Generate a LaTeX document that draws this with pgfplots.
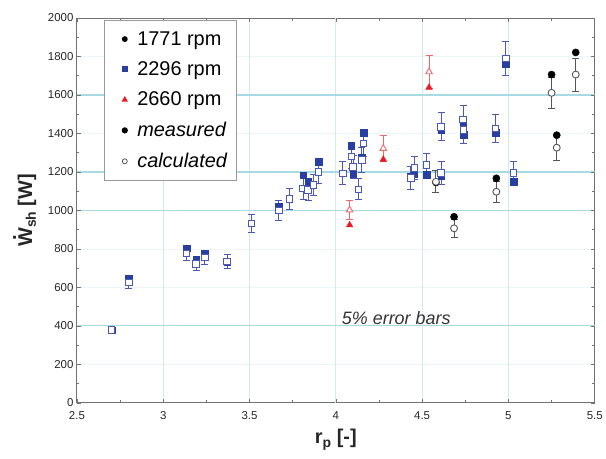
\documentclass[border=0pt]{standalone}
\usepackage{fontspec}
\setmainfont{Liberation Sans}
\usepackage{pgfplots}
\pgfplotsset{compat=1.18}
\usepackage{pgfplotstable}

\definecolor{bfill}{RGB}{40,62,160}
\definecolor{bopen}{RGB}{75,88,182}
\definecolor{rfill}{RGB}{232,28,36}
\definecolor{ropen}{RGB}{236,105,105}
\definecolor{copen}{RGB}{85,85,85}
\definecolor{hgrid}{RGB}{168,218,228}
\definecolor{vgrid}{RGB}{208,236,242}
\definecolor{fgrid}{RGB}{236,246,248}

% x = r_p, m = measured, c = calculated, e = 5% of calculated
\pgfplotstableread{
x m c e
2.70 378 378 18.9
2.80 648 625 31.3
3.135 803 777 38.9
3.19 746 722 36.1
3.24 777 756 37.8
3.37 734 734 36.7
3.51 933 933 46.7
3.67 1023 1000 50.0
3.73 1060 1060 53.0
3.81 1184 1115 55.8
3.84 1149 1106 55.3
3.87 1132 1132 56.6
3.90 1253 1201 60.1
4.04 1193 1193 59.7
4.09 1336 1280 64.0
4.10 1190 1225 61.3
4.13 1110 1110 55.5
4.16 1403 1348 67.4
4.15 1275 1262 63.1
4.435 1175 1170 58.5
4.455 1192 1222 61.1
4.525 1187 1236 61.8
4.61 1420 1435 71.8
4.61 1180 1195 59.8
4.737 1447 1472 73.6
4.74 1393 1417 70.9
4.925 1403 1426 71.3
4.985 1763 1789 89.5
5.03 1149 1196 59.8
}\tblblue

\pgfplotstableread{
x m c e
4.58 1145 1149 57.5
4.685 967 907 45.4
4.93 1167 1097 54.9
5.25 1706 1611 80.6
5.28 1391 1326 66.3
5.39 1821 1706 85.3
}\tblblack

\pgfplotstableread{
x m c e
4.08 924 1002 50.1
4.275 1265 1322 66.1
4.54 1639 1720 86.0
}\tblred

\begin{document}
\begin{tikzpicture}
\begin{axis}[
    scale only axis,
    width=518bp, height=385bp,
    xmin=2.5, xmax=5.5,
    ymin=0, ymax=2000,
    xtick={2.5,3,...,5.5},
    ytick={0,200,...,2000},
    minor x tick num=1,
    minor y tick num=1,
    tick align=inside,
    major tick length=4bp,
    minor tick length=2.5bp,
    tick style={black!55, line width=0.5pt},
    axis line style={black!55, line width=0.9pt},
    ymajorgrids=true,
    major grid style={fgrid, line width=0.8pt},
    extra x ticks={3,3.5,4,4.5,5},
    extra x tick labels={},
    extra x tick style={grid=major, major grid style={vgrid, line width=1pt}},
    extra y ticks={400,1000,1200,1600},
    extra y tick labels={},
    extra y tick style={grid=major, major grid style={hgrid, line width=1.2pt}},
    /pgf/number format/assume math mode=true,
    /pgf/number format/set thousands separator={},
    tick label style={font=\fontsize{11.5}{12}\selectfont, text=black!85},
    xticklabel style={yshift=-5bp},
    xlabel={\textbf{r\raisebox{-0.35ex}{\fontsize{14}{14}\selectfont p} [-]}},
    ylabel={\textbf{\ooalign{W\cr\hidewidth\raisebox{0.8em}{.}\hidewidth\cr}\raisebox{-0.35ex}{\fontsize{14}{14}\selectfont sh} [W]}},
    label style={font=\fontsize{20}{22}\selectfont, text=black!85},
    xlabel style={at={(axis description cs:0.5,-0.096)}, anchor=center},
    ylabel style={at={(axis description cs:-0.0965,0.5)}, anchor=center, rotate=0},
    legend style={at={(axis description cs:0.052,0.995)}, anchor=north west,
        draw=black!40, line width=1.2pt, fill=white,
        font=\fontsize{20}{22}\selectfont, row sep=11bp,
        inner xsep=7pt, inner ysep=9pt},
    legend image code/.code={
        \path (0cm,0cm) (0.8cm,0cm);
        \draw[#1] plot[only marks] coordinates {(0.45cm,0cm)};},
    legend cell align=left,
    clip=false
]

\addlegendimage{mark=*, mark size=2.3pt, black}
\addlegendentry{1771 rpm}
\addlegendimage{mark=square*, mark size=2.3pt, bfill}
\addlegendentry{2296 rpm}
\addlegendimage{mark=triangle*, mark size=2.5pt, rfill}
\addlegendentry{2660 rpm}
\addlegendimage{mark=*, mark size=2.5pt, black}
\addlegendentry{\textit{measured}}
\addlegendimage{mark=o, mark size=2.5pt, copen, line width=0.8pt}
\addlegendentry{\textit{calculated}}

% 1771 rpm
\addplot[forget plot, only marks, mark=*, mark size=3.6pt, black]
    table[x=x, y=m]{\tblblack};
\addplot[forget plot, only marks, mark=*, mark size=3.5pt,
    mark options={draw=copen, fill=white, line width=0.9pt},
    error bars/.cd, y dir=both, y explicit,
    error bar style={copen, line width=0.9pt},
    error mark options={rotate=90, copen, mark size=3.5pt, line width=0.9pt}]
    table[x=x, y=c, y error=e]{\tblblack};

% 2296 rpm
\addplot[forget plot, only marks, mark=square*, mark size=3.3pt, bfill]
    table[x=x, y=m]{\tblblue};
\addplot[forget plot, only marks, mark=square*, mark size=3.3pt,
    mark options={draw=bopen, fill=white, line width=0.9pt},
    error bars/.cd, y dir=both, y explicit,
    error bar style={bopen, line width=0.9pt},
    error mark options={rotate=90, bopen, mark size=3.5pt, line width=0.9pt}]
    table[x=x, y=c, y error=e]{\tblblue};

% 2660 rpm
\addplot[forget plot, only marks, mark=triangle*, mark size=3.8pt, rfill]
    table[x=x, y=m]{\tblred};
\addplot[forget plot, only marks, mark=triangle*, mark size=3.8pt,
    mark options={draw=ropen, fill=white, line width=0.9pt},
    error bars/.cd, y dir=both, y explicit,
    error bar style={ropen, line width=0.9pt},
    error mark options={rotate=90, ropen, mark size=3.5pt, line width=0.9pt}]
    table[x=x, y=c, y error=e]{\tblred};

\node[font=\itshape\fontsize{18}{20}\selectfont, text=black!80] at (axis cs:4.35,441) {5\% error bars};

\path (rel axis cs:-0.1486,-0.1455) rectangle (rel axis cs:1.0212,1.0468);
\end{axis}
\end{tikzpicture}
\end{document}
